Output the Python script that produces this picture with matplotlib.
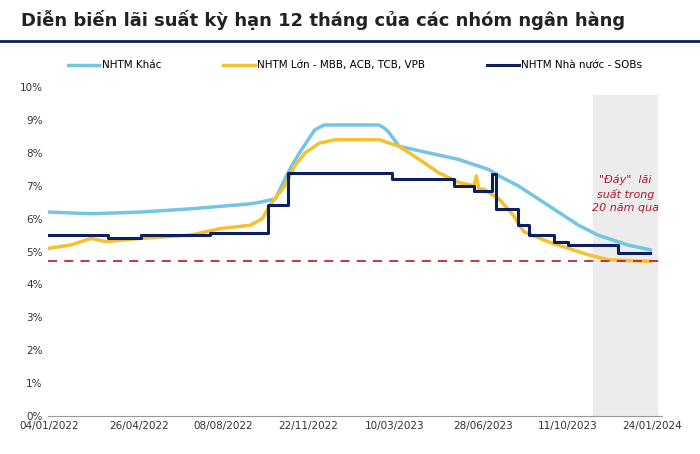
import matplotlib
matplotlib.use("Agg")
import matplotlib.pyplot as plt
import pandas as pd
import matplotlib.ticker as mt

base = pd.Timestamp("2022-01-04")
khac_days = [0, 52, 114, 176, 250, 262, 281, 299, 311, 330, 342, 355, 410, 417, 423, 435, 472, 509, 546, 559, 583, 608, 633, 658, 682, 719, 747]
khac_vals = [6.2, 6.15, 6.2, 6.3, 6.45, 6.5, 6.6, 7.5, 8.0, 8.7, 8.85, 8.85, 8.85, 8.75, 8.6, 8.2, 8.0, 7.8, 7.5, 7.3, 7.0, 6.6, 6.2, 5.8, 5.5, 5.2, 5.05]
lon_days = [0, 27, 52, 70, 114, 176, 213, 250, 265, 274, 293, 305, 318, 336, 355, 410, 435, 460, 484, 509, 528, 531, 534, 540, 559, 577, 590, 620, 645, 670, 695, 747]
lon_vals = [5.1, 5.2, 5.4, 5.3, 5.4, 5.5, 5.7, 5.8, 6.0, 6.4, 7.0, 7.6, 8.0, 8.3, 8.4, 8.4, 8.2, 7.8, 7.4, 7.1, 7.0, 7.3, 6.9, 6.9, 6.6, 6.1, 5.6, 5.3, 5.1, 4.9, 4.75, 4.7]
sob_days = [0, 73, 114, 200, 272, 297, 426, 503, 528, 550, 556, 583, 596, 627, 645, 707, 747]
sob_vals = [5.5, 5.4, 5.5, 5.55, 6.4, 7.4, 7.2, 7.0, 6.85, 7.35, 6.3, 5.8, 5.5, 5.3, 5.2, 4.95, 4.95]
tick_labels = ["04/01/2022", "26/04/2022", "08/08/2022", "22/11/2022", "10/03/2023", "28/06/2023", "11/10/2023", "24/01/2024"]
floor_rate = 4.7

td = lambda d: [base + pd.Timedelta(days=x) for x in d]

fig = plt.figure(figsize=(7, 4.54), dpi=100)
fig.text(0.03, 0.955, "Diễn biến lãi suất kỳ hạn 12 tháng của các nhóm ngân hàng",
         fontsize=13, fontweight="bold", color="#222222", va="center")
fig.add_artist(plt.Line2D([0.0, 1.0], [0.91, 0.91], color="#0d1f5c", lw=2))
ax = fig.add_axes([0.068, 0.084, 0.878, 0.724])
ax.axvspan(base + pd.Timedelta(days=676), base + pd.Timedelta(days=755), ymax=0.975, color="#ececec", zorder=0)
ax.plot(td(khac_days), khac_vals, color="#74c5e4", lw=2.5, label="NHTM Khác")
ax.plot(td(lon_days), lon_vals, color="#f5c12e", lw=2.5, label="NHTM Lớn - MBB, ACB, TCB, VPB")
ax.step(td(sob_days), sob_vals, where="post", color="#0d1f5c", lw=2.2, label="NHTM Nhà nước - SOBs")
ax.axhline(floor_rate, color="#c0282d", ls=(0, (5, 4)), lw=1.3)
ax.text(base + pd.Timedelta(days=716), 6.75, "\"Đáy\"  lãi\nsuất trong\n20 năm qua", color="#b0182d",
        fontsize=8, style="italic", ha="center", va="center", linespacing=1.4)
ax.set_ylim(0, 10)
ax.set_xlim(base - pd.Timedelta(days=2), base + pd.Timedelta(days=762))
ax.yaxis.set_major_locator(mt.MultipleLocator(1))
ax.yaxis.set_major_formatter(mt.FuncFormatter(lambda v, p: f"{int(v)}%"))
ticks = pd.to_datetime(tick_labels, format="%d/%m/%Y")
ax.set_xticks(ticks)
ax.set_xticklabels(tick_labels)
ax.tick_params(labelsize=7.5, colors="#333333", length=0)
for s in ["top", "right", "left"]:
    ax.spines[s].set_visible(False)
ax.spines["bottom"].set_color("#999999")
ax.legend(loc="upper center", bbox_to_anchor=(0.5, 1.11), ncol=3, frameon=False, fontsize=7.5,
          handlelength=3, columnspacing=6, handletextpad=0.2)
fig.savefig("out.png")
